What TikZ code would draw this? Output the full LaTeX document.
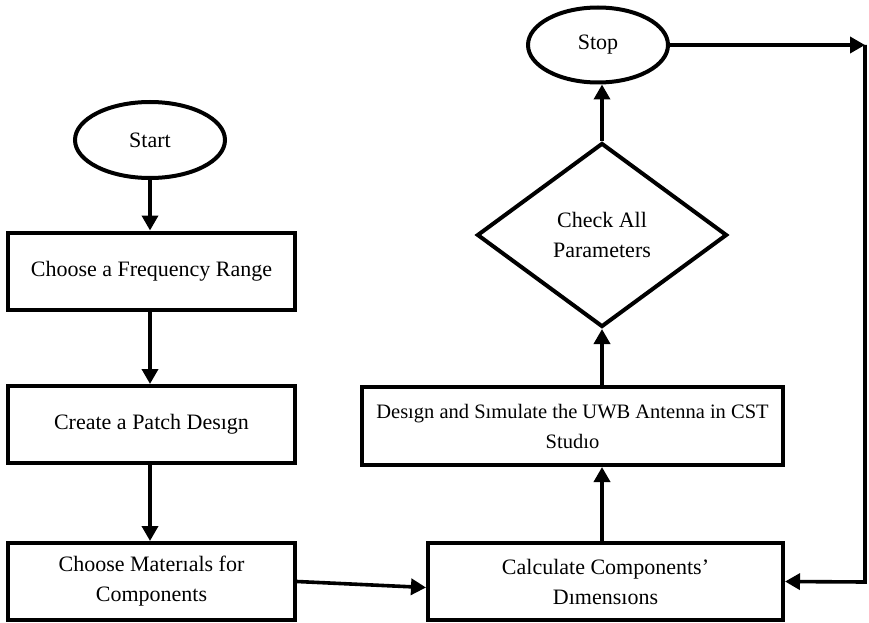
\documentclass[tikz,border=0pt]{standalone}
\usepackage{fontspec}
\setmainfont{Liberation Serif}
\usetikzlibrary{shapes.geometric}
\usetikzlibrary{arrows.meta}

\begin{document}
\begin{tikzpicture}[x=1pt,y=-1pt,line width=4pt,font=\fontsize{22}{30}\selectfont,
  termnode/.style={draw,ellipse,inner sep=0pt},
  procbox/.style={draw,rectangle,align=center,inner sep=0pt},
  decnode/.style={draw,diamond,aspect=1.36,align=center,inner sep=0pt,minimum width=250pt,minimum height=184pt},
  flow/.style={-{Triangle[length=15pt,width=16pt]},line width=3.6pt}]
\useasboundingbox (0,0) rectangle (869,623);
\node[termnode,minimum width=150pt,minimum height=76pt] (start) at (150,140) {Start};
\node[procbox,minimum width=287pt,minimum height=77pt] (freq) at (151.5,271) {Choose a Frequency Range};
\node[procbox,minimum width=287pt,minimum height=77pt] (patch) at (151.5,424.5) {Create a Patch Desıgn};
\node[procbox,minimum width=287pt,minimum height=77pt] (mat) at (151.5,581.5) {Choose Materıals for\\Components};
\node[procbox,minimum width=355pt,minimum height=77pt] (calc) at (605.5,581.5) {Calculate Components’\\Dımensıons};
\node[procbox,minimum width=421pt,minimum height=78pt,font=\fontsize{20.5}{30}\selectfont] (sim) at (572.5,426) {Desıgn and Sımulate the UWB Antenna in CST\\Studıo};
\node[decnode] (check) at (602,235) {Check All\\Parameters};
\node[termnode,minimum width=140pt,minimum height=75pt] (stop) at (598,45) {Stop};
\coordinate (loopa) at (865,45);
\coordinate (loopb) at (865,582);
\draw[flow] (start.south) -- (start.south |- freq.north);
\draw[flow] (freq.south -| start.south) -- (start.south |- patch.north);
\draw[flow] (patch.south -| start.south) -- (start.south |- mat.north);
\draw[flow] (mat.east) -- ([yshift=-6pt]calc.west);
\draw[flow] (calc.north -| check.south) -- (sim.south -| check.south);
\draw[flow] (sim.north -| check.south) -- (check.south);
\draw[flow] (check.north) -- (stop.south -| check.north);
\draw[flow] (stop.east) -- (loopa);
\draw[flow] (loopa) -- (loopb) -- (calc.east);
\end{tikzpicture}
\end{document}
